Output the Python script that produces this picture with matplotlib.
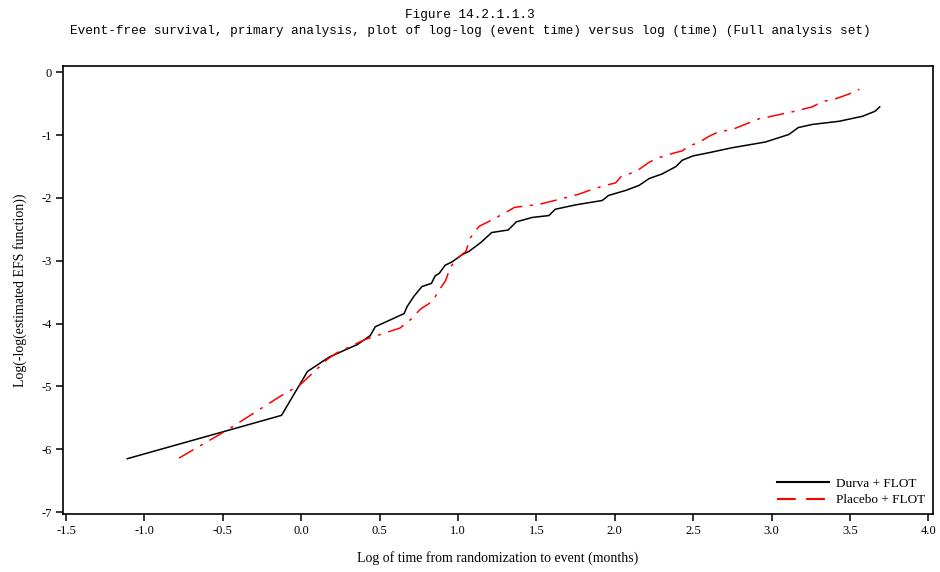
import matplotlib
matplotlib.use("Agg")
import matplotlib.pyplot as plt
from matplotlib.lines import Line2D

# Durva + FLOT (black, solid)
durva_x = [-1.11, -0.126, 0.04, 0.18, 0.36, 0.44, 0.472, 0.656, 0.675, 0.72, 0.77,
           0.83, 0.854, 0.88, 0.918, 0.96, 1.028, 1.07, 1.145, 1.215, 1.32, 1.372,
           1.474, 1.58, 1.62, 1.75, 1.92, 1.96, 2.07, 2.155, 2.22, 2.30, 2.39, 2.43,
           2.50, 2.60, 2.75, 2.96, 3.11, 3.17, 3.26, 3.43, 3.58, 3.66, 3.69]
durva_y = [-6.15, -5.46, -4.76, -4.53, -4.33, -4.19, -4.05, -3.84, -3.73, -3.56, -3.41,
           -3.36, -3.24, -3.20, -3.07, -3.02, -2.90, -2.85, -2.71, -2.55, -2.51, -2.38,
           -2.31, -2.28, -2.18, -2.11, -2.04, -1.96, -1.88, -1.80, -1.69, -1.62, -1.50, -1.40,
           -1.33, -1.28, -1.20, -1.11, -0.99, -0.88, -0.83, -0.78, -0.70, -0.62, -0.55]

# Placebo + FLOT (red, dash-dot)
placebo_x = [-0.78, -0.47, -0.13, -0.01, 0.17, 0.23, 0.41, 0.63, 0.70, 0.76, 0.84,
             0.875, 0.92, 0.95, 0.986, 1.05, 1.08, 1.135, 1.20, 1.305, 1.36, 1.52,
             1.665, 1.77, 1.86, 1.94, 2.005, 2.04, 2.09, 2.155, 2.22, 2.28, 2.37, 2.43,
             2.47, 2.54, 2.60, 2.66, 2.75, 2.83, 2.92, 2.98, 3.13, 3.26, 3.32, 3.41,
             3.49, 3.56]
placebo_y = [-6.14, -5.69, -5.15, -4.98, -4.56, -4.46, -4.25, -4.07, -3.93, -3.77, -3.64,
             -3.48, -3.32, -3.11, -2.98, -2.85, -2.63, -2.45, -2.37, -2.23, -2.15, -2.10,
             -2.01, -1.94, -1.86, -1.80, -1.76, -1.66, -1.62, -1.545, -1.43, -1.36, -1.29, -1.25,
             -1.18, -1.11, -1.02, -0.95, -0.91, -0.83, -0.74, -0.71, -0.63, -0.55, -0.47, -0.42,
             -0.35, -0.27]

x_ticks = [-1.5, -1.0, -0.5, 0.0, 0.5, 1.0, 1.5, 2.0, 2.5, 3.0, 3.5, 4.0]
y_ticks = [0, -1, -2, -3, -4, -5, -6, -7]

serif = "Liberation Serif"
mono = "Liberation Mono"

fig = plt.figure(figsize=(9.4, 5.72), dpi=100)
ax = fig.add_axes([0.067, 0.1014, 0.9256, 0.7832])

ax.plot(durva_x, durva_y, color="black", lw=1.1, solid_joinstyle="miter")
ax.plot(placebo_x, placebo_y, color="red", lw=1.1, dashes=(11, 5, 2, 5))

ax.set_xlim(-1.52, 4.03)
ax.set_ylim(-7.03, 0.1)
ax.set_xticks(x_ticks)
ax.set_xticklabels([f"{v:.1f}" for v in x_ticks], fontfamily=serif, fontsize=9)
ax.set_yticks(y_ticks)
ax.set_yticklabels([str(v) for v in y_ticks], fontfamily=serif, fontsize=9)
ax.tick_params(direction="out", length=5, width=1.1, pad=3)

for sp in ax.spines.values():
    sp.set_linewidth(1.2)

ax.set_xlabel("Log of time from randomization to event (months)",
              fontfamily=serif, fontsize=10, labelpad=10)
ax.set_ylabel("Log(-log(estimated EFS function))", fontfamily=serif, fontsize=10, labelpad=10)

handles = [Line2D([], [], color="black", lw=1.5),
           Line2D([], [], color="red", lw=1.5, dashes=(9, 5))]
ax.legend(handles, ["Durva + FLOT", "Placebo + FLOT"], loc="lower right",
          frameon=False, prop={"family": serif, "size": 9.5}, handlelength=4.0,
          handletextpad=0.5, labelspacing=0.35, borderaxespad=0.0,
          bbox_to_anchor=(0.997, 0.005))

fig.text(0.5, 0.973, "Figure 14.2.1.1.3", ha="center", va="center",
         fontfamily=mono, fontsize=9.2)
fig.text(0.5, 0.946, "Event-free survival, primary analysis, plot of log-log (event time) "
         "versus log (time) (Full analysis set)", ha="center", va="center",
         fontfamily=mono, fontsize=9.2)

fig.savefig("out.png", dpi=100)
